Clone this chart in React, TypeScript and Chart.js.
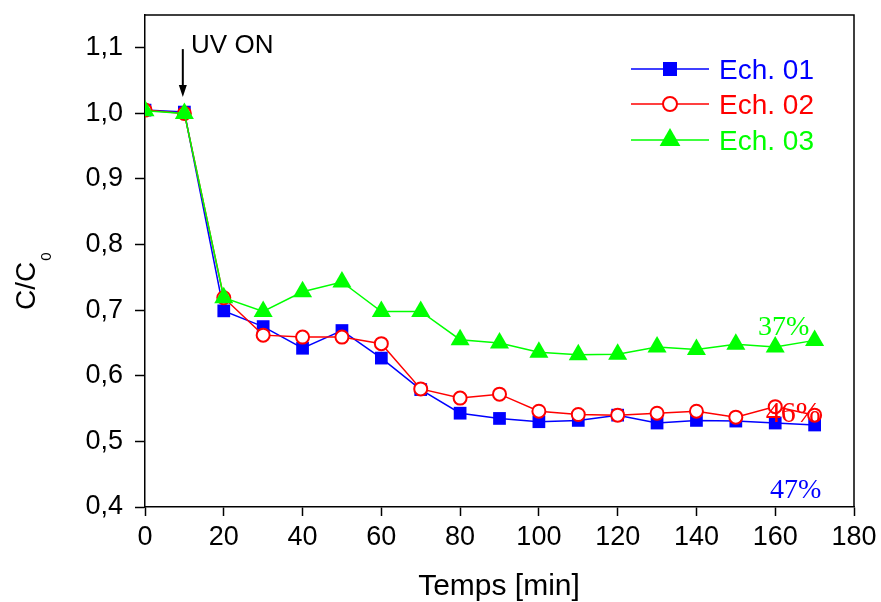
import React, { useEffect, useRef } from 'react';
import { Chart, registerables } from 'chart.js';

Chart.register(...registerables);

const times = [0, 10, 20, 30, 40, 50, 60, 70, 80, 90, 100, 110, 120, 130, 140, 150, 160, 170];
const ech01 = [1.005, 1.002, 0.699, 0.675, 0.642, 0.669, 0.627, 0.579, 0.543, 0.535, 0.530, 0.532, 0.540, 0.528, 0.532, 0.531, 0.528, 0.525];
const ech02 = [1.005, 1.0, 0.719, 0.662, 0.659, 0.659, 0.649, 0.580, 0.566, 0.572, 0.546, 0.541, 0.540, 0.543, 0.546, 0.537, 0.553, 0.540];
const ech03 = [1.004, 1.0, 0.719, 0.698, 0.728, 0.743, 0.698, 0.698, 0.655, 0.650, 0.636, 0.632, 0.633, 0.644, 0.640, 0.648, 0.644, 0.654];
const seriesNames = ['Ech. 01', 'Ech. 02', 'Ech. 03'];
const seriesColors = ['#0000FF', '#FF0000', '#00FF00'];
const yTicks = [0.4, 0.5, 0.6, 0.7, 0.8, 0.9, 1.0, 1.1];
const xTicks = [0, 20, 40, 60, 80, 100, 120, 140, 160, 180];
const percentLabels = ['37%', '46%', '47%'];
const xTitle = 'Temps [min]';
const yTitleMain = 'C/C';
const yTitleSub = '0';
const uvLabel = 'UV ON';

const SANS = '"Liberation Sans", Arial, sans-serif';
const SERIF = '"Liberation Serif", "Times New Roman", serif';

function drawMarker(ctx: CanvasRenderingContext2D, kind: number, x: number, y: number, color: string) {
  ctx.save();
  ctx.beginPath();
  if (kind === 0) {
    const s = 7;
    ctx.fillStyle = color;
    ctx.fillRect(x - s, y - s, 2 * s, 2 * s);
  } else if (kind === 1) {
    ctx.arc(x, y, 7, 0, Math.PI * 2);
    ctx.fillStyle = '#fff';
    ctx.fill();
    ctx.lineWidth = 2;
    ctx.strokeStyle = color;
    ctx.stroke();
  } else {
    const r = 12;
    ctx.moveTo(x, y - r);
    ctx.lineTo(x + r * 0.866, y + r * 0.5);
    ctx.lineTo(x - r * 0.866, y + r * 0.5);
    ctx.closePath();
    ctx.fillStyle = color;
    ctx.fill();
  }
  ctx.restore();
}

const decorPlugin = {
  id: 'decor',
  afterDraw(chart: any) {
    const ctx: CanvasRenderingContext2D = chart.ctx;
    const { left, right, top, bottom } = chart.chartArea;
    const xs = chart.scales.x;
    const ys = chart.scales.y;
    ctx.save();
    // frame top and right
    ctx.strokeStyle = '#000';
    ctx.lineWidth = 1.5;
    ctx.beginPath();
    ctx.moveTo(left, top);
    ctx.lineTo(right, top);
    ctx.lineTo(right, bottom);
    ctx.stroke();

    // legend
    const rowsY = [69, 104, 140];
    seriesNames.forEach((name, i) => {
      const y = rowsY[i];
      ctx.strokeStyle = seriesColors[i];
      ctx.lineWidth = 1.5;
      ctx.beginPath();
      ctx.moveTo(631, y);
      ctx.lineTo(709, y);
      ctx.stroke();
      drawMarker(ctx, i, 670, y, seriesColors[i]);
      ctx.fillStyle = seriesColors[i];
      ctx.font = `28px ${SANS}`;
      ctx.textAlign = 'left';
      ctx.textBaseline = 'alphabetic';
      ctx.fillText(name, 719, y + 10);
    });

    // percent annotations
    ctx.font = `28px ${SERIF}`;
    ctx.textAlign = 'left';
    ctx.textBaseline = 'alphabetic';
    ctx.fillStyle = seriesColors[2];
    ctx.fillText(percentLabels[0], xs.getPixelForValue(155.6), ys.getPixelForValue(0.662));
    ctx.fillStyle = seriesColors[1];
    ctx.font = `30px ${SERIF}`;
    ctx.fillText(percentLabels[1], xs.getPixelForValue(157.6), ys.getPixelForValue(0.529));
    ctx.font = `28px ${SERIF}`;
    ctx.fillStyle = seriesColors[0];
    ctx.fillText(percentLabels[2], xs.getPixelForValue(158.7), ys.getPixelForValue(0.414));

    // UV ON label + arrow
    ctx.fillStyle = '#000';
    ctx.font = `26px ${SANS}`;
    ctx.fillText(uvLabel, xs.getPixelForValue(11.7), ys.getPixelForValue(1.092));
    const ax = xs.getPixelForValue(9.6);
    const ay0 = ys.getPixelForValue(1.098);
    const ay1 = ys.getPixelForValue(1.025);
    ctx.strokeStyle = '#000';
    ctx.lineWidth = 2;
    ctx.beginPath();
    ctx.moveTo(ax, ay0);
    ctx.lineTo(ax, ay1 - 8);
    ctx.stroke();
    ctx.beginPath();
    ctx.moveTo(ax, ay1);
    ctx.lineTo(ax - 4, ay1 - 12);
    ctx.lineTo(ax + 4, ay1 - 12);
    ctx.closePath();
    ctx.fill();

    // x title
    ctx.font = `30px ${SANS}`;
    ctx.textAlign = 'center';
    ctx.fillText(xTitle, 499, 595);

    // y title rotated
    ctx.save();
    ctx.translate(35, 310);
    ctx.rotate(-Math.PI / 2);
    ctx.textAlign = 'left';
    ctx.font = `28px ${SANS}`;
    ctx.fillText(yTitleMain, 0, 0);
    const w = ctx.measureText(yTitleMain).width;
    ctx.font = `15px ${SANS}`;
    ctx.fillText(yTitleSub, w + 1, 16);
    ctx.restore();

    ctx.restore();
  },
};

export default function App() {
  const canvasRef = useRef<HTMLCanvasElement | null>(null);

  useEffect(() => {
    if (!canvasRef.current) return;
    const mk = (vals: number[]) => vals.map((v, i) => ({ x: times[i], y: v }));
    const chart = new Chart(canvasRef.current, {
      type: 'line',
      data: {
        datasets: [
          {
            label: seriesNames[0],
            data: mk(ech01),
            borderColor: seriesColors[0],
            backgroundColor: seriesColors[0],
            borderWidth: 1.5,
            pointStyle: 'rect',
            pointRadius: 9,
            pointBorderWidth: 0,
            pointBackgroundColor: seriesColors[0],
            clip: 0,
            order: 2,
          },
          {
            label: seriesNames[1],
            data: mk(ech02),
            borderColor: seriesColors[1],
            backgroundColor: '#fff',
            borderWidth: 1.5,
            pointStyle: 'circle',
            pointRadius: 6.5,
            pointBorderWidth: 2,
            pointBackgroundColor: '#fff',
            pointBorderColor: seriesColors[1],
            clip: 0,
            order: 1,
          },
          {
            label: seriesNames[2],
            data: mk(ech03),
            borderColor: seriesColors[2],
            backgroundColor: seriesColors[2],
            borderWidth: 1.5,
            pointStyle: 'triangle',
            pointRadius: 11,
            pointBorderWidth: 0,
            pointBackgroundColor: seriesColors[2],
            clip: 0,
            order: 0,
          },
        ] as any,
      },
      options: {
        animation: false,
        responsive: true,
        maintainAspectRatio: false,
        layout: { padding: { top: 15, right: 27, left: 0, bottom: 0 } },
        plugins: { legend: { display: false }, tooltip: { enabled: false }, title: { display: false } },
        scales: {
          x: {
            type: 'linear',
            min: 0,
            max: 180,
            afterFit: (s: any) => { s.height = 95; s.paddingLeft = 0; s.paddingRight = 0; },
            afterBuildTicks: (s: any) => { s.ticks = xTicks.map((v) => ({ value: v })); },
            grid: { drawOnChartArea: false, drawTicks: true, tickLength: 9, tickWidth: 1.5, tickColor: '#000', color: '#000' },
            border: { display: true, color: '#000', width: 1.5 },
            ticks: { color: '#000', font: { family: SANS, size: 27 }, padding: 5, maxRotation: 0, autoSkip: false },
          },
          y: {
            type: 'linear',
            min: 0.4,
            max: 1.15,
            afterFit: (s: any) => { s.width = 145; s.paddingTop = 0; s.paddingBottom = 0; },
            afterBuildTicks: (s: any) => { s.ticks = yTicks.map((v) => ({ value: v })); },
            grid: { drawOnChartArea: false, drawTicks: true, tickLength: 10, tickWidth: 1.5, tickColor: '#000', color: '#000' },
            border: { display: true, color: '#000', width: 1.5 },
            ticks: {
              color: '#000',
              font: { family: SANS, size: 27 },
              padding: 12,
              autoSkip: false,
              callback: (v: any) => Number(v).toFixed(1).replace('.', ','),
            },
          },
        },
      } as any,
      plugins: [decorPlugin],
    });
    return () => chart.destroy();
  }, []);

  return (
    <div style={{ position: 'fixed', left: 0, top: 0, width: 881, height: 602, background: '#fff' }}>
      <canvas ref={canvasRef} />
    </div>
  );
}
